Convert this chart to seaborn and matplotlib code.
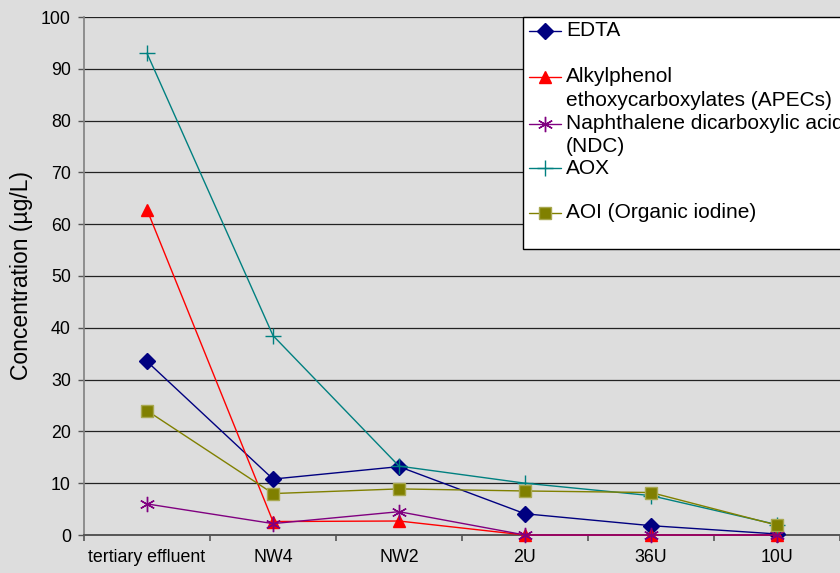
import matplotlib
matplotlib.use("Agg")
import matplotlib.pyplot as plt
import seaborn as sns
from matplotlib.lines import Line2D
from matplotlib.patches import Rectangle
from matplotlib.ticker import FixedLocator, MultipleLocator

# data
sites = ["tertiary effluent", "NW4", "NW2", "2U", "36U", "10U"]
edta = [33.5, 10.8, 13.2, 4.1, 1.8, 0.2]
apecs = [62.8, 2.6, 2.7, 0.0, 0.0, 0.0]
ndc = [6.0, 2.2, 4.5, 0.0, 0.0, 0.0]
aox = [93.0, 38.5, 13.3, 10.0, 7.6, 2.0]
aoi = [24.0, 8.0, 8.9, 8.5, 8.2, 1.9]

labels = ["EDTA",
          "Alkylphenol\nethoxycarboxylates (APECs)",
          "Naphthalene dicarboxylic acid\n(NDC)",
          "AOX",
          "AOI (Organic iodine)"]
series = [edta, apecs, ndc, aox, aoi]

# colour, marker, size, edge colour
styles = [
    ("#000080", "D", 8, "#000080"),
    ("#FF0000", "^", 9, "#FF0000"),
    ("#800080", (6, 2, 0), 11, "#800080"),
    ("#008080", "+", 12, "#008080"),
    ("#808000", "s", 9, "#A8A850"),
]

sns.set_theme(style="white")
plt.rcParams["font.family"] = ["Liberation Sans", "DejaVu Sans"]
plt.rcParams["text.color"] = "black"
plt.rcParams["axes.labelcolor"] = "black"
plt.rcParams["xtick.color"] = "black"
plt.rcParams["ytick.color"] = "black"

bg = "#DDDDDD"
fig = plt.figure(figsize=(8.4, 5.73), dpi=100, facecolor=bg)
ax = fig.add_axes([84 / 840, 38 / 573, 756 / 840, 518 / 573])
ax.set_facecolor(bg)

for vals, (col, mk, ms, mec) in zip(series, styles):
    sns.lineplot(x=sites, y=vals, ax=ax, sort=False, color=col, lw=1.0,
                 marker=mk, markersize=ms, markeredgecolor=mec,
                 markeredgewidth=1.0, zorder=3, clip_on=False)

ax.set_xlim(-0.5, len(sites) - 0.5)
ax.set_ylim(0, 100)
ax.yaxis.set_major_locator(MultipleLocator(10))
ax.xaxis.set_minor_locator(FixedLocator([i - 0.5 for i in range(len(sites) + 1)]))
ax.grid(axis="y", color="#222222", lw=0.9)
ax.grid(axis="x", visible=False)

for s in ["top", "right"]:
    ax.spines[s].set_visible(False)
ax.spines["left"].set_color("#808080")
ax.spines["left"].set_linewidth(1.2)
ax.spines["bottom"].set_color("#555555")
ax.spines["bottom"].set_linewidth(1.4)

ax.tick_params(axis="y", which="major", direction="out", length=4, width=1,
               color="#555555", labelcolor="black", labelsize=12.8, pad=5.5,
               left=True)
ax.tick_params(axis="x", which="major", length=0, labelsize=12.8,
               labelcolor="black", pad=10)
ax.tick_params(axis="x", which="minor", direction="out", length=4, width=1.2,
               color="#555555", bottom=True)

ax.set_xlabel("")
ax.set_ylabel("Concentration (\u00b5g/L)", fontsize=16.5, labelpad=6,
              color="black")

# legend box drawn in Excel style (marker on the first text line)
fig.add_artist(Rectangle((523 / 840, 1 - 249 / 573), 0.5, 232 / 573,
                         transform=fig.transFigure, facecolor="white",
                         edgecolor="black", lw=1.0, zorder=5))
rows = [31, 77, 124, 168, 213]
for lab, row, (col, mk, ms, mec) in zip(labels, rows, styles):
    yf = 1 - row / 573
    fig.add_artist(Line2D([529 / 840, 545 / 840, 561 / 840], [yf, yf, yf],
                          transform=fig.transFigure, color=col, lw=1.0,
                          marker=mk, markersize=ms, markevery=[1],
                          markeredgecolor=mec, markeredgewidth=1.0, zorder=6))
    for i, line in enumerate(lab.split("\n")):
        fig.text(566 / 840, 1 - (row + i * 23) / 573, line, fontsize=15,
                 va="center", ha="left", color="black", zorder=7)

fig.savefig("out.png", dpi=100, facecolor=bg)
